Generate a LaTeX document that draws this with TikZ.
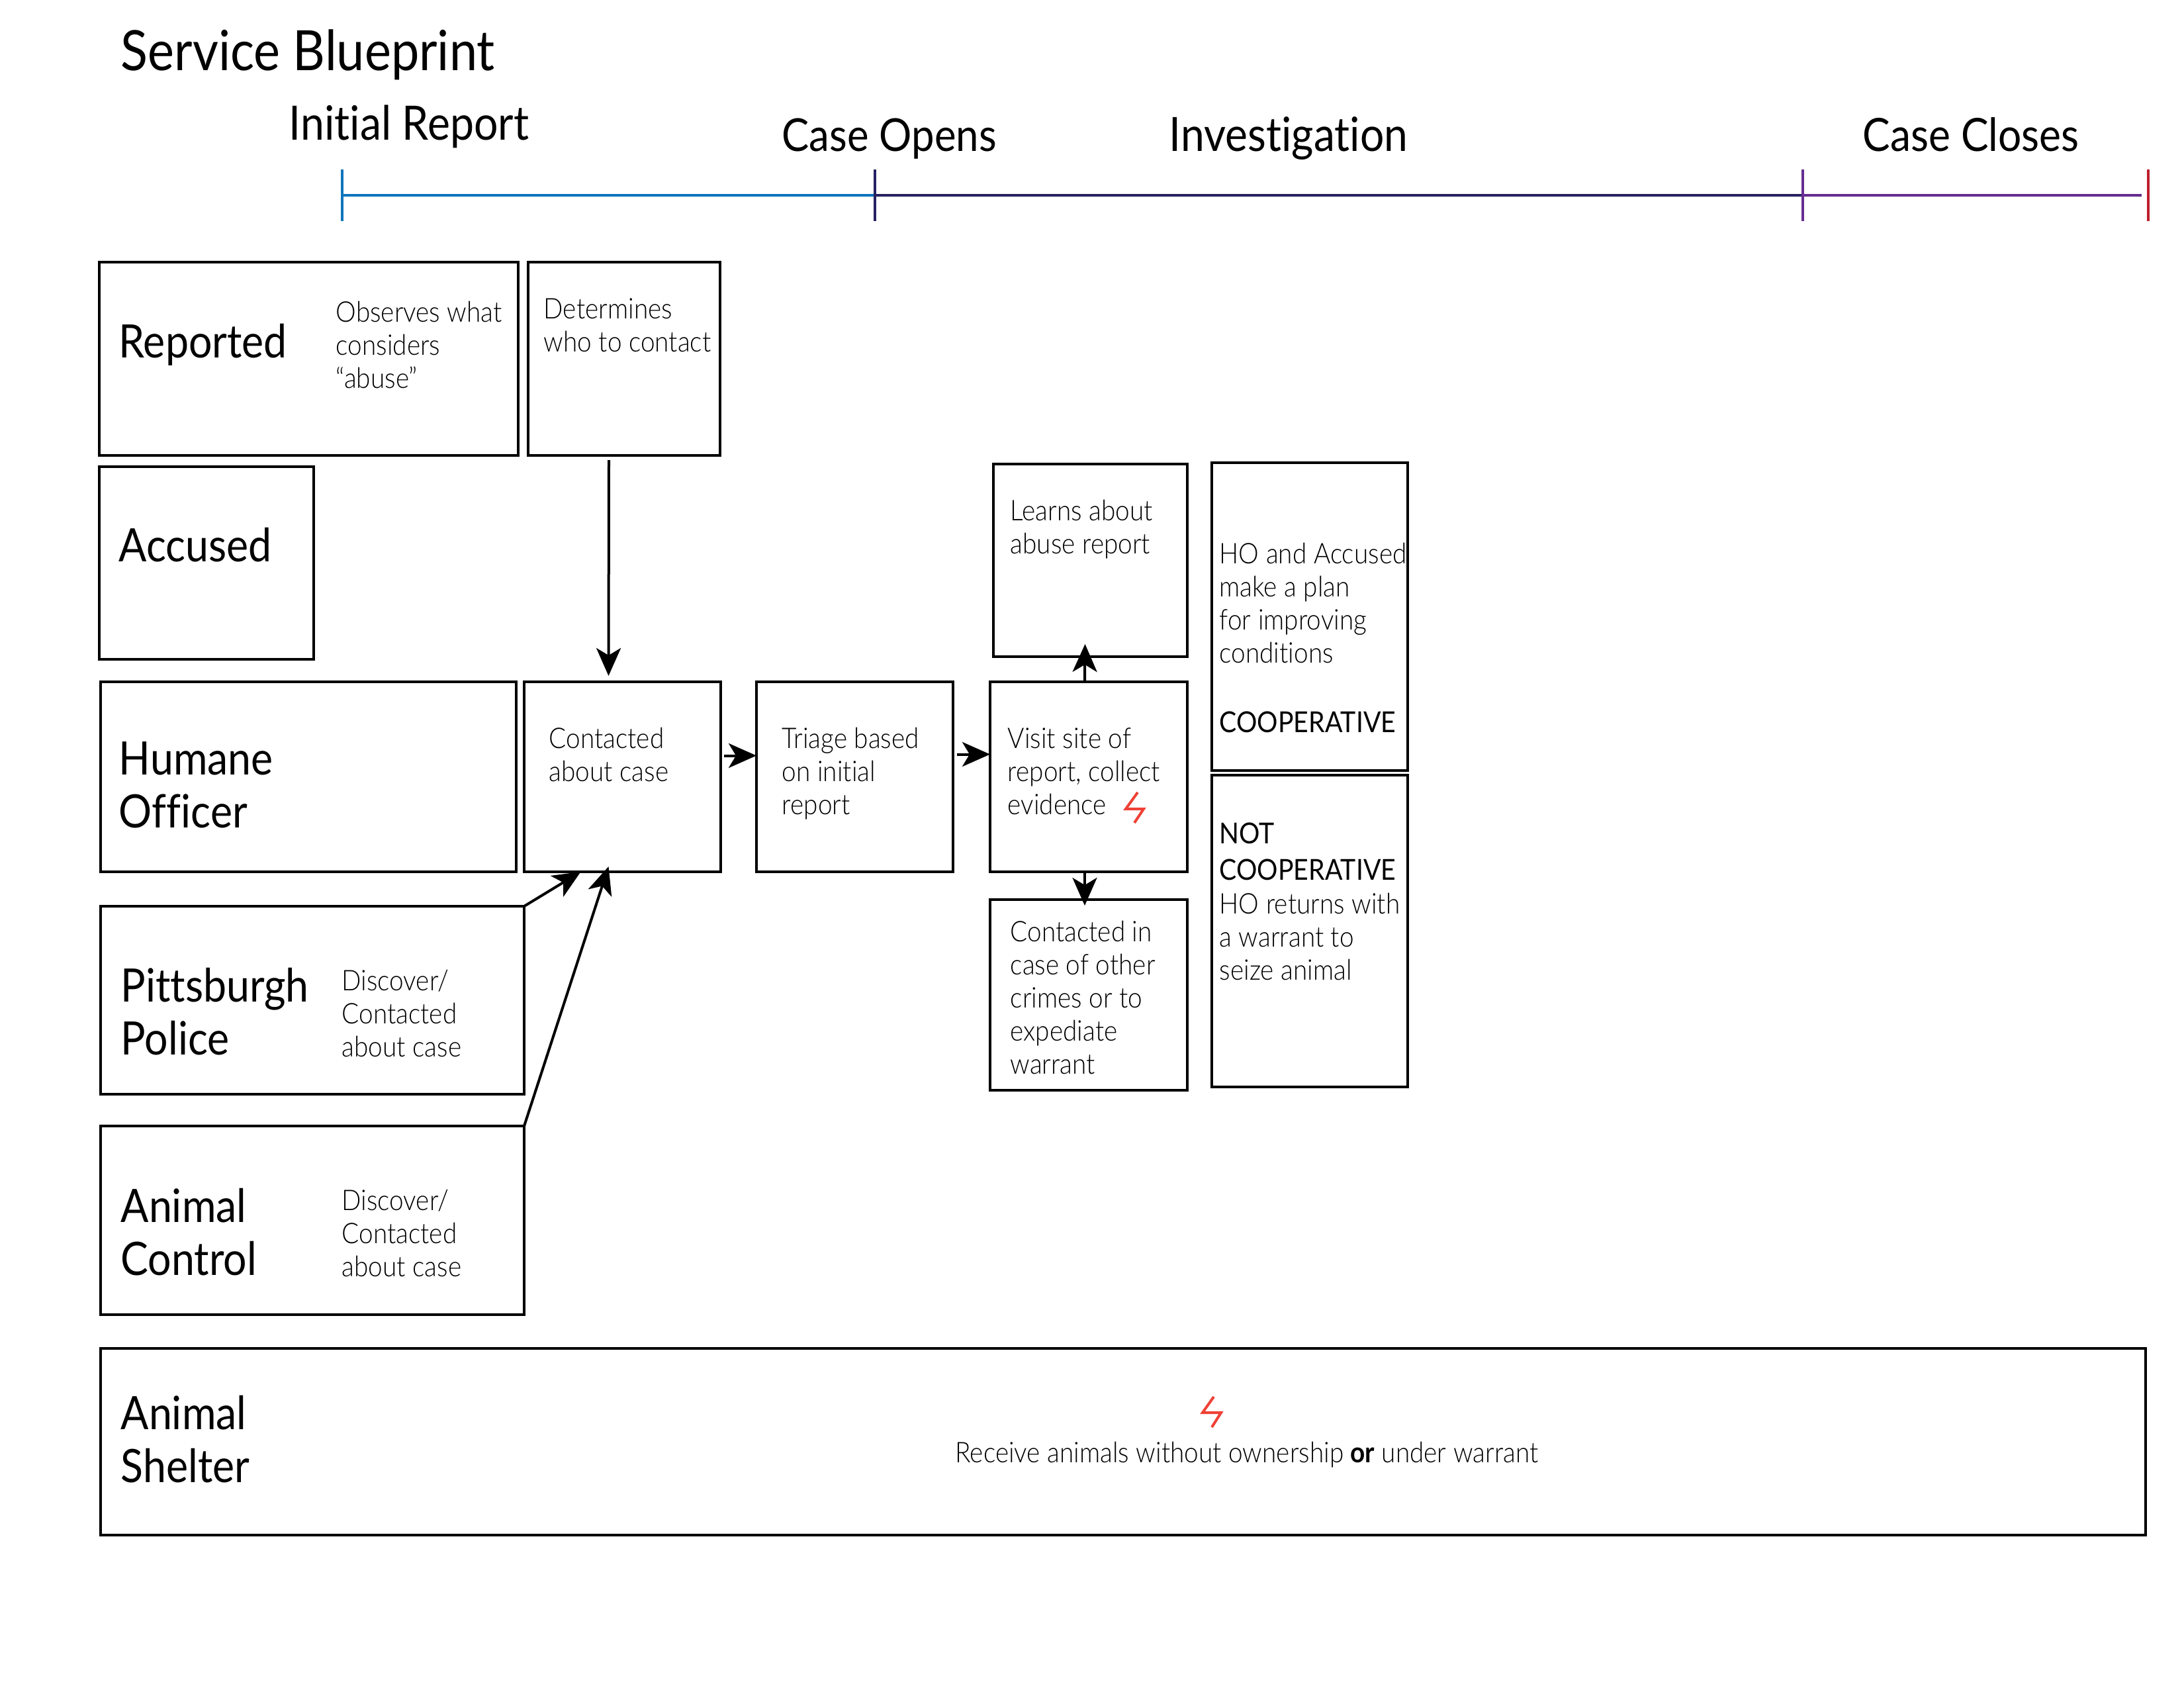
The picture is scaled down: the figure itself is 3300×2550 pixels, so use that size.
\documentclass[tikz,border=0pt]{standalone}
\usepackage{fontspec}
\usepackage{xcolor}
\usetikzlibrary{arrows.meta,calc}
\setmainfont{Lato}[UprightFont=* Light,BoldFont=* Bold,FakeStretch=0.9,Ligatures=NoCommon]
\newfontfamily\headfont{Lato}[FakeStretch=0.9,Ligatures=NoCommon]
\definecolor{phaseblue}{HTML}{0F75BC}
\definecolor{phaseindigo}{HTML}{262262}
\definecolor{phasepurple}{HTML}{662D91}
\definecolor{phasered}{HTML}{BE1E2D}
\definecolor{boltred}{HTML}{EF4136}

\begin{document}
\begin{tikzpicture}[
    x=0.1mm, y=-0.1mm,
    >={Stealth[length=4.2mm,width=3.7mm,inset=1.1mm]},
    bbox/.style 2 args={draw,line width=0.45mm,anchor=north west,inner sep=0pt,outer sep=0pt,
                  minimum width=#1*0.1mm,minimum height=#2*0.1mm},
    body/.style={anchor=base west,align=left,inner sep=0pt,
                  font=\fontsize{12.25}{14.2}\selectfont},
    emph/.style={body,font=\headfont\fontsize{12.4}{15.6}\selectfont},
    role/.style={anchor=base west,align=left,inner sep=0pt,
                  font=\headfont\fontsize{19.8}{22.7}\selectfont},
    phase/.style={anchor=base west,inner sep=0pt,font=\headfont\fontsize{20}{24}\selectfont},
    flow/.style={->,line width=0.4mm},
    bolt/.style={boltred,line width=0.4mm},
  ]
  \useasboundingbox (0,0) rectangle (3300,2550);

  % --- title and phases ---
  \node[phase,font=\headfont\fontsize{23.9}{28}\selectfont] (title) at (182,107) {Service Blueprint};
  \node[phase,font=\headfont\fontsize{20.35}{24}\selectfont] (initial) at (436,212) {Initial Report};
  \node[phase,font=\headfont\fontsize{19.5}{24}\selectfont] (opens) at (1181,229) {Case Opens};
  \node[phase,font=\headfont\fontsize{20.3}{24}\selectfont] (investigation) at (1766,229) {Investigation};
  \node[phase,font=\headfont\fontsize{19.7}{24}\selectfont] (closes) at (2814,229) {Case Closes};

  % --- timeline ---
  \coordinate (t1) at (517,295);
  \coordinate (t2) at (1322,295);
  \coordinate (t3) at (2724,295);
  \coordinate (t4) at (3236,295);
  \coordinate (t5) at (3246,295);
  \foreach \a/\b/\c in {t1/t2/phaseblue,t2/t3/phaseindigo,t3/t4/phasepurple} {
    \draw[\c,line width=0.4mm] (\a) -- (\b);
  }
  \foreach \a/\c in {t1/phaseblue,t2/phaseindigo,t3/phasepurple,t5/phasered} {
    \draw[\c,line width=0.35mm] ($(\a)+(0,-39)$) -- ($(\a)+(0,39)$);
  }

  % --- row boxes ---
  \node[bbox={633}{292}] (reported) at (150,396) {};
  \node[bbox={290}{292}] (determines) at (798,396) {};
  \node[bbox={324}{291}] (accused) at (150,705) {};
  \node[bbox={628}{287}] (humane) at (152,1030) {};
  \node[bbox={297}{287}] (contacted) at (792,1030) {};
  \node[bbox={297}{287}] (triage) at (1143,1030) {};
  \node[bbox={298}{287}] (visit) at (1496,1030) {};
  \node[bbox={293}{291}] (learns) at (1501,701) {};
  \node[bbox={298}{288}] (crimes) at (1496,1359) {};
  \node[bbox={296}{465}] (plan) at (1831,699) {};
  \node[bbox={296}{471}] (warrant) at (1831,1171) {};
  \node[bbox={640}{284}] (police) at (152,1369) {};
  \node[bbox={640}{285}] (control) at (152,1701) {};
  \node[bbox={3090}{282}] (shelter) at (152,2037) {};

  % --- row names ---
  \node[role] (reportedname) at (179,540) {Reported};
  \node[role] (accusedname) at (179,848) {Accused};
  \node[role] (humanename) at (179,1250) {Humane\\Officer};
  \node[role] (policename) at (182,1593) {Pittsburgh\\Police};
  \node[role] (controlname) at (182,1926) {Animal\\Control};
  \node[role] (sheltername) at (182,2239) {Animal\\Shelter};

  % --- box texts ---
  \node[body] (observes) at (507,586) {Observes what\\considers\\“abuse”};
  \node[body] (whom) at (821,531) {Determines\\who to contact};
  \node[body] (learnt) at (1526,836) {Learns about\\abuse report};
  \node[body] (plant) at (1842,1001) {HO and Accused\\make a plan\\for improving\\conditions};
  \node[emph] (coop) at (1842,1106) {COOPERATIVE};
  \node[body] (about) at (829,1180) {Contacted\\about case};
  \node[body] (triaget) at (1181,1230) {Triage based\\on initial\\report};
  \node[body] (visitt) at (1522,1230) {Visit site of\\report, collect\\evidence};
  \node[body] (crimest) at (1526,1622) {Contacted in\\case of other\\crimes or to\\expediate\\warrant};
  \node[emph] (notcoop) at (1842,1329) {NOT\\COOPERATIVE};
  \node[body] (returns) at (1842,1480) {HO returns with\\a warrant to\\seize animal};
  \node[body] (discover) at (516,1596) {Discover/\\Contacted\\about case};
  \node[body] (discovertwo) at (516,1928) {Discover/\\Contacted\\about case};
  \node[body,anchor=base] (receive) at (1884,2209) {Receive animals without ownership \textbf{or} under warrant};

  % --- bolts ---
  \draw[bolt] (1719,1197) -- (1701,1222) -- (1728,1222) -- (1714,1243);
  \draw[bolt] (1834,2110) -- (1817,2134) -- (1845,2134) -- (1831,2156);

  % --- arrows ---
  \draw[flow] ($(determines.south)+(-23,7)$) -- ($(contacted.north)+(-21,-9)$);
  \draw[flow] ($(contacted.east)+(5,-32)$) -- ($(triage.west)+(0,-32)$);
  \draw[flow] ($(triage.east)+(6,-34)$) -- ($(visit.west)+(0,-34)$);
  \draw[flow] ($(visit.north)+(-6,0)$) -- ($(learns.south)+(-8,-19)$);
  \draw[flow] ($(visit.south)+(-6,0)$) -- ($(crimes.north)+(-6,9)$);
  \draw[flow] (police.north east) -- ($(contacted.south)+(-63,0)$);
  \draw[flow] (control.north east) -- ($(contacted.south)+(-21,-8)$);

\end{tikzpicture}
\end{document}
